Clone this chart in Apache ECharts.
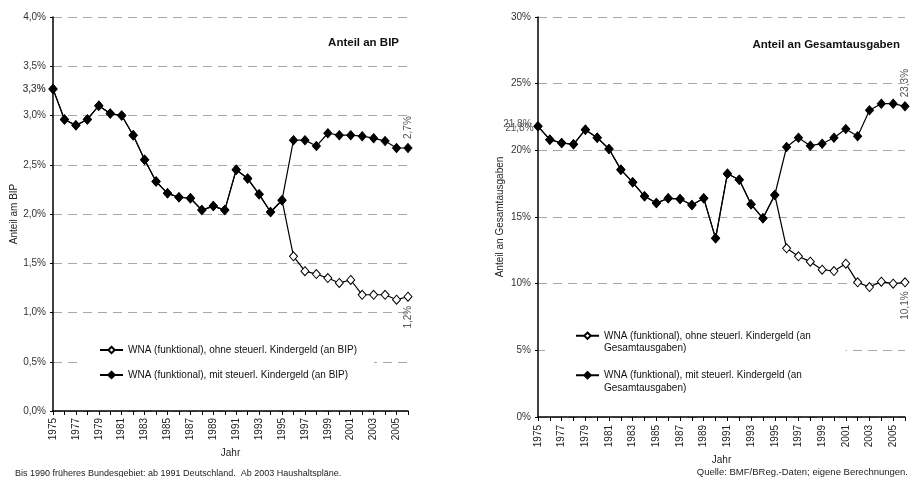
<!DOCTYPE html>
<html>
<head>
<meta charset="utf-8">
<script src="https://cdn.jsdelivr.net/npm/echarts@6/dist/echarts.min.js"></script>
<style>
  html, body { margin: 0; padding: 0; background: #fff; }
  #main { width: 913px; height: 477px; }
</style>
</head>
<body>
<div id="main"></div>
<script>
const years = ['1975', '1976', '1977', '1978', '1979', '1980', '1981', '1982', '1983', '1984',
  '1985', '1986', '1987', '1988', '1989', '1990', '1991', '1992', '1993', '1994', '1995',
  '1996', '1997', '1998', '1999', '2000', '2001', '2002', '2003', '2004', '2005', '2006'];

// Anteil an BIP (%)
const bipOhne = [3.27, 2.96, 2.90, 2.96, 3.10, 3.02, 3.00, 2.80, 2.55, 2.33,
  2.21, 2.17, 2.16, 2.04, 2.08, 2.04, 2.45, 2.36, 2.20, 2.02, 2.14,
  1.57, 1.42, 1.39, 1.35, 1.30, 1.33, 1.18, 1.18, 1.18, 1.13, 1.16];
const bipMit = [3.27, 2.96, 2.90, 2.96, 3.10, 3.02, 3.00, 2.80, 2.55, 2.33,
  2.21, 2.17, 2.16, 2.04, 2.08, 2.04, 2.45, 2.36, 2.20, 2.02, 2.14,
  2.75, 2.75, 2.69, 2.82, 2.80, 2.80, 2.79, 2.77, 2.74, 2.67, 2.67];

// Anteil an Gesamtausgaben (%)
const gesOhne = [21.8, 20.8, 20.55, 20.45, 21.55, 20.95, 20.1, 18.55, 17.6, 16.55,
  16.05, 16.4, 16.35, 15.9, 16.4, 13.4, 18.25, 17.8, 15.95, 14.9, 16.65,
  12.65, 12.05, 11.65, 11.05, 10.95, 11.5, 10.1, 9.75, 10.15, 10.0, 10.1];
const gesMit = [21.8, 20.8, 20.55, 20.45, 21.55, 20.95, 20.1, 18.55, 17.6, 16.55,
  16.05, 16.4, 16.35, 15.9, 16.4, 13.4, 18.25, 17.8, 15.95, 14.9, 16.65,
  20.25, 20.95, 20.35, 20.5, 20.95, 21.6, 21.05, 23.0, 23.5, 23.5, 23.3];

const nameBipOhne = 'WNA (funktional), ohne steuerl. Kindergeld (an BIP)';
const nameBipMit = 'WNA (funktional), mit steuerl. Kindergeld (an BIP)';
const nameGesOhne = 'WNA (funktional), ohne steuerl. Kindergeld (an Gesamtausgaben)';
const nameGesMit = 'WNA (funktional), mit steuerl. Kindergeld (an Gesamtausgaben)';

const FONT = 'Liberation Sans, Arial, sans-serif';
const fmt = v => v.toFixed(1).replace('.', ',') + '%';

// Datenpunkte mit Beschriftung am Anfang und am Ende
const withLabels = (values, startLabel, endBelow) => values.map((v, i) => {
  if (i === 0 && startLabel) {
    return { value: v, label: Object.assign({ show: true, position: 'left', distance: 3 }, startLabel) };
  }
  if (i === values.length - 1) {
    return {
      value: v,
      label: {
        show: true,
        position: endBelow ? 'bottom' : 'top',
        rotate: 90,
        align: endBelow ? 'right' : 'left',
        verticalAlign: 'middle',
        distance: 4
      }
    };
  }
  return v;
});

const lineSeries = (name, data, filled, idx) => ({
  name: name,
  type: 'line',
  xAxisIndex: idx,
  yAxisIndex: idx,
  data: data,
  symbol: 'diamond',
  symbolSize: [8, 9],
  showSymbol: true,
  showAllSymbol: true,
  lineStyle: { color: '#000', width: 1.2 },
  itemStyle: { color: filled ? '#000' : '#fff', borderColor: '#000', borderWidth: 1 },
  label: { color: '#555', fontSize: 10, fontFamily: FONT, formatter: p => fmt(p.value) },
  emphasis: { disabled: true },
  z: filled ? 3 : 2
});

const xAxisCfg = (idx, gap, margin) => ({
  type: 'category',
  gridIndex: idx,
  data: years,
  boundaryGap: false,
  name: 'Jahr',
  nameLocation: 'middle',
  nameGap: gap,
  nameTextStyle: { color: '#222', fontSize: 10, fontFamily: FONT },
  axisLine: { lineStyle: { color: '#000', width: 1.5 } },
  axisTick: { interval: 0, length: 4, lineStyle: { color: '#000' } },
  axisLabel: { interval: 1, rotate: 90, margin: margin, color: '#222', fontSize: 10, fontFamily: FONT },
  splitLine: { show: false }
});

const yAxisCfg = (idx, name, max, interval, formatter, gap) => ({
  type: 'value',
  gridIndex: idx,
  min: 0,
  max: max,
  interval: interval,
  name: name,
  nameLocation: 'middle',
  nameRotate: 90,
  nameGap: gap,
  nameTextStyle: { color: '#222', fontSize: 10, fontFamily: FONT },
  axisLine: { show: true, lineStyle: { color: '#000', width: 1.5 } },
  axisTick: { show: true, length: 3, lineStyle: { color: '#000' } },
  axisLabel: { margin: 7, color: '#333', fontSize: 10, fontFamily: FONT, formatter: formatter },
  splitLine: { show: true, lineStyle: { color: '#a8a8a8', type: [9, 6], width: 1 } }
});

// Legende rechts: Text umbrechen, erste Zeile auf Höhe des Symbols
const wrapGes = name => {
  const cut = name.lastIndexOf(' Gesamtausgaben');
  return '\n' + name.slice(0, cut) + '\n' + name.slice(cut + 1);
};

const chart = echarts.init(document.getElementById('main'));
chart.setOption({
  backgroundColor: '#fff',
  animation: false,
  title: [
    { text: 'Anteil an BIP', right: 509, top: 32,
      textStyle: { fontSize: 11.5, fontWeight: 'bold', color: '#111', fontFamily: FONT } },
    { text: 'Anteil an Gesamtausgaben', right: 8, top: 34,
      textStyle: { fontSize: 11.5, fontWeight: 'bold', color: '#111', fontFamily: FONT } },
    { text: 'Bis 1990 früheres Bundesgebiet: ab 1991 Deutschland.  Ab 2003 Haushaltspläne.', left: 10, top: 464,
      textStyle: { fontSize: 9, fontWeight: 'normal', color: '#222', fontFamily: FONT } },
    { text: 'Quelle: BMF/BReg.-Daten; eigene Berechnungen.', right: 0, top: 462,
      textStyle: { fontSize: 9.5, fontWeight: 'normal', color: '#222', fontFamily: FONT } }
  ],
  legend: [
    {
      data: [nameBipOhne, nameBipMit],
      orient: 'vertical',
      left: 78,
      top: 339,
      padding: [6, 17, 6, 21],
      itemGap: 15,
      itemWidth: 23,
      itemHeight: 8,
      backgroundColor: '#fff',
      textStyle: { fontSize: 10, color: '#111', fontFamily: FONT },
      selectedMode: false
    },
    {
      data: [nameGesOhne, nameGesMit],
      formatter: wrapGes,
      orient: 'vertical',
      left: 545,
      top: 317,
      padding: [0, 35, 0, 30],
      itemGap: 2,
      itemWidth: 23,
      itemHeight: 8,
      backgroundColor: '#fff',
      textStyle: { fontSize: 10, color: '#111', fontFamily: FONT, lineHeight: 12.5 },
      selectedMode: false
    }
  ],
  grid: [
    { left: 53, right: 505, top: 17, bottom: 66 },
    { left: 538, right: 8, top: 17, bottom: 60 }
  ],
  xAxis: [
    xAxisCfg(0, 36, 7),
    xAxisCfg(1, 38, 8)
  ],
  yAxis: [
    yAxisCfg(0, 'Anteil am BIP', 4, 0.5, v => v.toFixed(1).replace('.', ',') + '%', 34),
    yAxisCfg(1, 'Anteil an Gesamtausgaben', 30, 5, v => v + '%', 33)
  ],
  series: [
    lineSeries(nameBipOhne, withLabels(bipOhne, { }, true), false, 0),
    lineSeries(nameBipMit, withLabels(bipMit, { }, false), true, 0),
    lineSeries(nameGesOhne, withLabels(gesOhne, { distance: 0, offset: [0, 2] }, true), false, 1),
    lineSeries(nameGesMit, withLabels(gesMit, { distance: 0, offset: [-2, -2] }, false), true, 1)
  ]
});
</script>
</body>
</html>
